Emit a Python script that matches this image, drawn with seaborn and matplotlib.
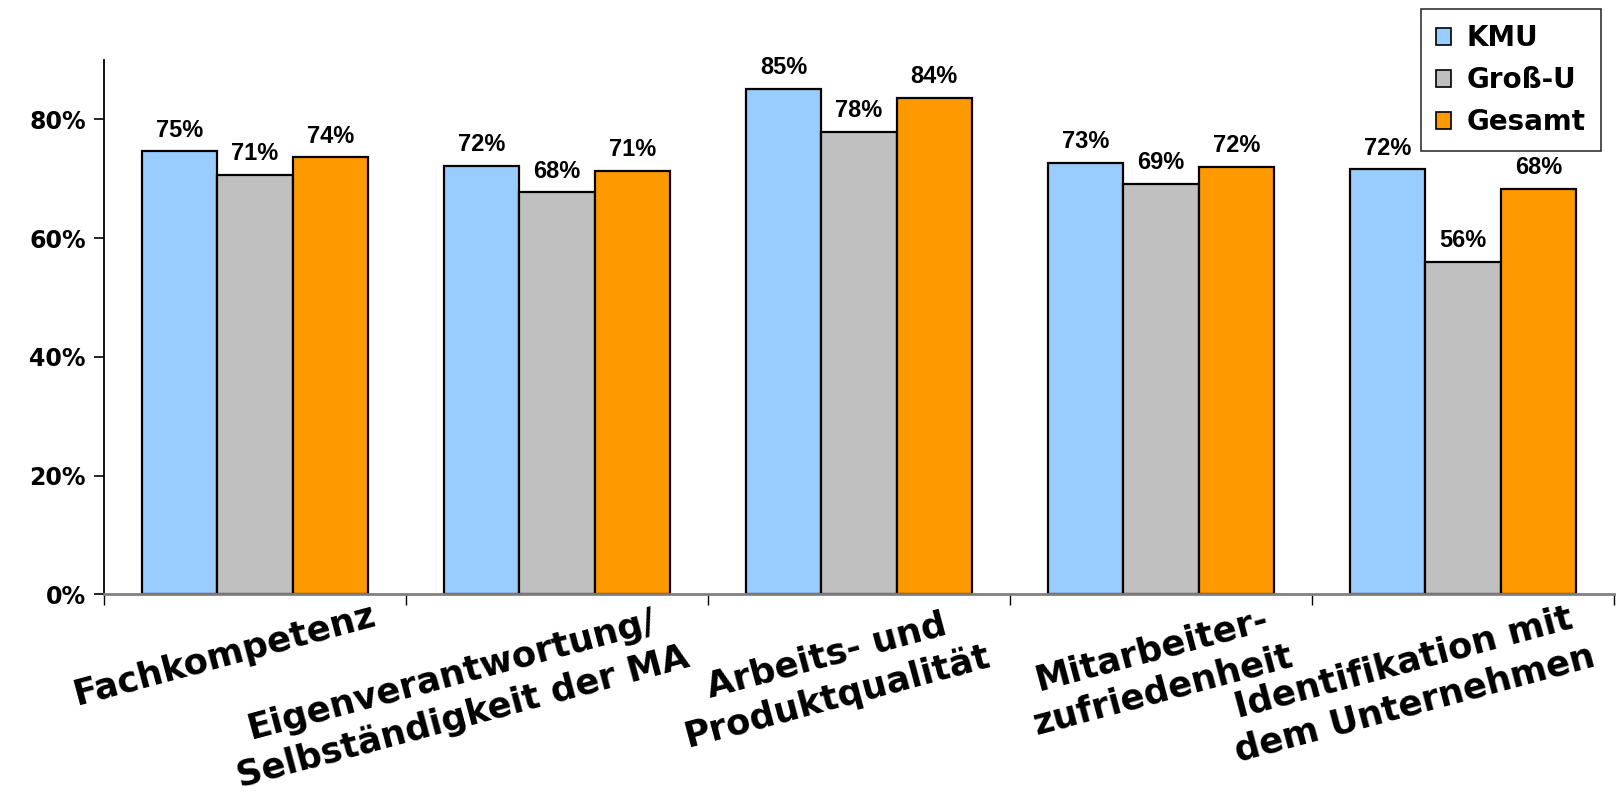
import matplotlib
matplotlib.use('Agg')
import matplotlib.pyplot as plt
import matplotlib.transforms as mtransforms
from matplotlib.ticker import PercentFormatter, FixedLocator
import seaborn as sns
import pandas as pd

kategorien = ['Fachkompetenz',
              'Eigenverantwortung/\nSelbständigkeit der MA',
              'Arbeits- und\nProduktqualität',
              'Mitarbeiter-\nzufriedenheit',
              'Identifikation mit\ndem Unternehmen']
gruppen = ['KMU', 'Groß-U', 'Gesamt']
kmu = [0.746, 0.722, 0.851, 0.727, 0.716]
gross_u = [0.707, 0.677, 0.779, 0.692, 0.560]
gesamt = [0.736, 0.713, 0.836, 0.720, 0.683]
farben = ['#99CCFF', '#C0C0C0', '#FF9900']

df = pd.DataFrame({
    'Kategorie': kategorien * 3,
    'Gruppe': [g for g in gruppen for _ in kategorien],
    'Wert': kmu + gross_u + gesamt,
})

sns.set_theme(style='white')
plt.rcParams['font.family'] = ['DejaVu Sans']
plt.rcParams['text.color'] = 'black'
plt.rcParams['xtick.labelcolor'] = 'black'
plt.rcParams['ytick.labelcolor'] = 'black'

fig, ax = plt.subplots(figsize=(16.17, 7.94), dpi=100)
fig.subplots_adjust(left=0.0643, right=0.998, top=0.9244, bottom=0.2513)

sns.barplot(data=df, x='Kategorie', y='Wert', hue='Gruppe', palette=farben,
            edgecolor='black', linewidth=1.6, width=0.75, saturation=1,
            ax=ax)

# Datenbeschriftungen
for cont in ax.containers:
    ax.bar_label(cont, fmt='{:.0%}', padding=7, fontsize=17, color='black',
                 fontweight='bold', family='Liberation Sans')

ax.set_ylim(0, 0.9)
ax.set_xlim(-0.5, 4.5)
ax.set_yticks([0, 0.2, 0.4, 0.6, 0.8])
ax.yaxis.set_major_formatter(PercentFormatter(1.0, decimals=0))
ax.tick_params(axis='y', length=7, width=1.2, color='black', direction='out',
               left=True, labelsize=17, pad=6)
for lab in ax.get_yticklabels():
    lab.set_fontweight('bold')

# Teilstriche zwischen den Kategorien
ax.xaxis.set_minor_locator(FixedLocator([-0.5, 0.5, 1.5, 2.5, 3.5, 4.5]))
ax.tick_params(axis='x', which='minor', length=8, width=1, color='black',
               bottom=True, direction='out')
ax.tick_params(axis='x', which='major', length=0, pad=3)

ax.set_xlabel('')
ax.set_ylabel('')
sns.despine(ax=ax)
ax.spines['left'].set_color('black')
ax.spines['left'].set_linewidth(1.3)
ax.spines['bottom'].set_color('#808080')
ax.spines['bottom'].set_linewidth(2)

# gedrehte Kategorienbeschriftungen
ax.set_xticks(range(len(kategorien)))
ax.set_xticklabels(kategorien, rotation=15, ha='right', va='top',
                   rotation_mode='anchor', multialignment='center',
                   fontsize=25.5, fontweight='bold', linespacing=1.3)
verschiebung = mtransforms.ScaledTranslation(1.16, 0, fig.dpi_scale_trans)
for lab in ax.get_xticklabels():
    lab.set_transform(lab.get_transform() + verschiebung)

# Legende
ax.legend_.remove()
handles, labels = ax.get_legend_handles_labels()
leg = fig.legend(handles, labels, loc='upper right',
                 bbox_to_anchor=(1601 / 1617, 1 - 9 / 794),
                 frameon=True, fancybox=False, edgecolor='black',
                 prop={'family': 'DejaVu Sans', 'weight': 'bold', 'size': 20},
                 handlelength=0.55, handleheight=0.55, handletextpad=0.55,
                 labelspacing=0.5, borderpad=0.55, borderaxespad=0)
leg.get_frame().set_linewidth(1.2)
for h in leg.legend_handles:
    h.set_edgecolor('black')
    h.set_linewidth(1.2)

fig.savefig('out.png', dpi=100)
